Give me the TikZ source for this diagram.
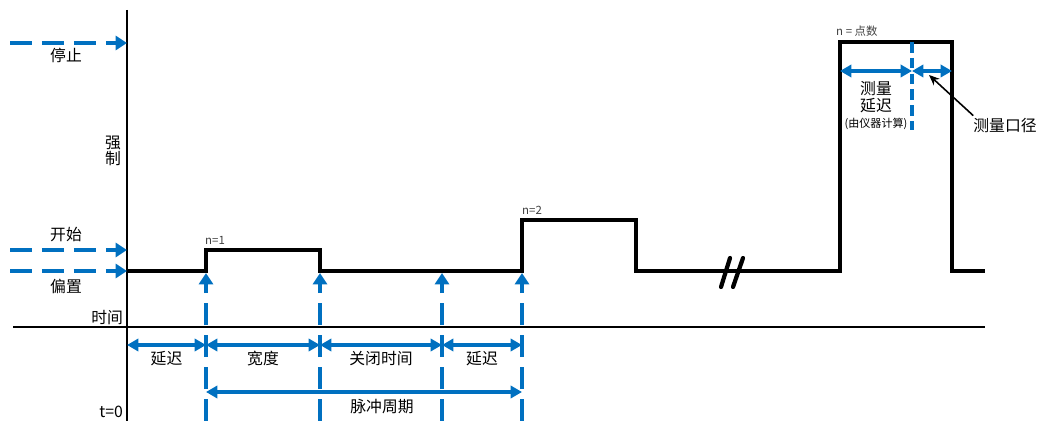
\documentclass[tikz,border=0pt]{standalone}
\usepackage{fontspec}
\usepackage{tikz}
\usetikzlibrary{arrows.meta, positioning, calc}
\newfontfamily\cjk{Noto Sans CJK SC}
\definecolor{trigblue}{RGB}{0,112,192}
\definecolor{tagtext}{RGB}{64,64,64}

\begin{document}
\begin{tikzpicture}[
  x=0.02cm, y=-0.02cm,
  axis/.style={line width=0.6pt, black},
  sig/.style={line width=2.4pt, black, line join=miter},
  brk/.style={line width=2.4pt, black, line cap=round},
  lvl/.style={line width=2.4pt, color=trigblue, dash pattern=on 12.5pt off 5.7pt, -{Triangle[length=6.5pt, width=8pt]}},
  trig/.style={line width=2.4pt, color=trigblue, dash pattern=on 12.5pt off 5.7pt, -{Triangle[length=6.5pt, width=8pt]}},
  dim/.style={line width=1.9pt, color=trigblue, {Triangle[length=6.5pt, width=7pt]}-{Triangle[length=6.5pt, width=7pt]}},
  apline/.style={line width=1.8pt, color=trigblue, dash pattern=on 6pt off 3pt},
  ptr/.style={line width=0.9pt, black, -{Stealth[length=6pt, width=5pt]}},
  lbl/.style={font=\cjk\fontsize{9}{11}\selectfont, text=black, inner sep=1pt, align=center},
  tag/.style={font=\cjk\fontsize{6.5}{7.5}\selectfont, inner sep=0.5pt, text=tagtext, anchor=base west},
  note/.style={font=\cjk\fontsize{6.3}{7.5}\selectfont, text=black, inner sep=0.5pt}
]
\useasboundingbox (0,0) rectangle (1040,421);

% --- Axes ---
\coordinate (ytop) at (127,10);
\coordinate (ybot) at (127,421);
\coordinate (xleft) at (13,327);
\coordinate (xright) at (985,327);
\draw[axis] (ytop) -- (ybot);
\draw[axis] (xleft) -- (xright);
\node[lbl, anchor=east] (timelbl) at (125,318) {时间};
\node[lbl, anchor=east] (t0lbl) at (125,412) {t=0};
\node[lbl] (forcelbl) at (113,151) {强\\[-2pt]制};

% --- Level markers on the left ---
\coordinate (stop0) at (10,43);   \coordinate (stop) at (127,43);
\coordinate (start0) at (10,250); \coordinate (start) at (127,250);
\coordinate (bias0) at (10,271);  \coordinate (bias) at (127,271);
\draw[lvl] (stop0) -- (stop);
\draw[lvl] (start0) -- (start);
\draw[lvl] (bias0) -- (bias);
\node[lbl] (stoplbl) at (66,55) {停止};
\node[lbl] (startlbl) at (66,235) {开始};
\node[lbl] (biaslbl) at (66,286) {偏置};

% --- Edges of the pulse train ---
\foreach \n/\x in {e1/206, e2/320, e3/442, e4/522, e5/636, e6/840, e7/952}
  \coordinate (\n) at (\x,271);
\coordinate (tail) at (985,271);
\coordinate (hi1) at (0,250);
\coordinate (hi2) at (0,220);
\coordinate (hi3) at (0,42);

% --- Signal ---
\draw[sig] (bias) -- (e1) -- (e1 |- hi1) -- (e2 |- hi1) -- (e2) -- (e4)
  -- (e4 |- hi2) -- (e5 |- hi2) -- (e5) -- (e6) -- (e6 |- hi3)
  -- (e7 |- hi3) -- (e7) -- (tail);
\draw[brk] (721,287) -- (730,258);
\draw[brk] (733,287) -- (743,258);
\node[tag] (n1) at (204,245) {n=1};
\node[tag] (n2) at (521,215) {n=2};
\node[tag] (npts) at (835,36) {n = 点数};

% --- Trigger lines ---
\foreach \n in {e1, e2, e3, e4}
  \draw[trig] (\n |- ybot) -- ($(\n)+(0,2)$);

% --- Timing dimensions ---
\coordinate (dimrow) at (0,345);
\coordinate (perrow) at (0,392);
\draw[dim] (bias |- dimrow) -- node[lbl, yshift=-7.5pt] (dlylbl) {延迟} (e1 |- dimrow);
\draw[dim] (e1 |- dimrow) -- node[lbl, yshift=-7.5pt] (widlbl) {宽度} (e2 |- dimrow);
\draw[dim] (e2 |- dimrow) -- node[lbl, yshift=-7.5pt] (offlbl) {关闭时间} (e3 |- dimrow);
\draw[dim] (e3 |- dimrow) -- node[lbl, yshift=-7.5pt] (dly2lbl) {延迟} (e4 |- dimrow);
\draw[dim] (e1 |- perrow) -- (e4 |- perrow);
\node[lbl] (perlbl) at (382,407) {脉冲周期};

% --- Measurement window ---
\coordinate (ap) at (912,42);
\coordinate (apbot) at (912,130);
\coordinate (mrow) at (0,71);
\draw[apline] (ap) -- (apbot);
\draw[dim] (e6 |- mrow) -- (ap |- mrow);
\draw[dim] (ap |- mrow) -- (e7 |- mrow);
\node[lbl] (mdlylbl) at (876,97) {测量\\[-1pt]延迟};
\node[note] (calclbl) at (876,124) {(由仪器计算)};
\node[lbl] (aplbl) at (1005,126) {测量口径};
\coordinate (aptip) at (929,75);
\draw[ptr] ($(aplbl.north west)+(2,-1)$) -- (aptip);

\end{tikzpicture}
\end{document}
